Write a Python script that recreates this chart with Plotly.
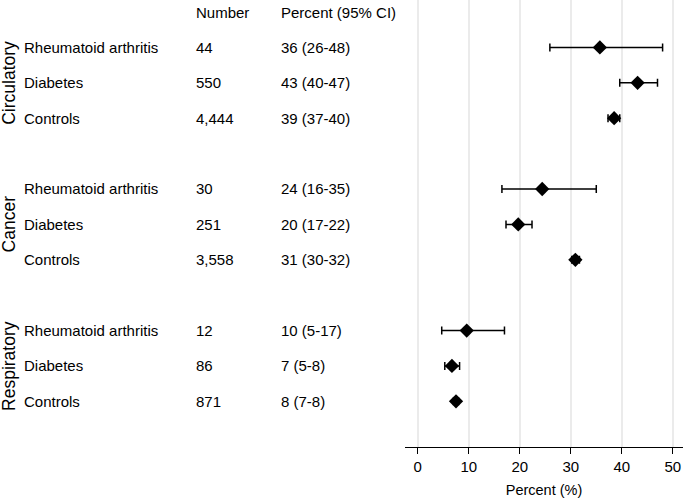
import plotly.graph_objects as go

# forest plot data
groups = ["Circulatory", "Cancer", "Respiratory"]
conditions = ["Rheumatoid arthritis", "Diabetes", "Controls"]
numbers = ["44", "550", "4,444", "30", "251", "3,558", "12", "86", "871"]
pct_text = ["36 (26-48)", "43 (40-47)", "39 (37-40)",
            "24 (16-35)", "20 (17-22)", "31 (30-32)",
            "10 (5-17)", "7 (5-8)", "8 (7-8)"]
pct = [35.7, 43.1, 38.5, 24.4, 19.7, 30.9, 9.6, 6.7, 7.5]
lo = [25.9, 39.6, 37.3, 16.5, 17.3, 30.2, 4.7, 5.3, 7.0]
hi = [48.0, 47.0, 39.6, 35.0, 22.4, 31.7, 17.0, 8.2, 8.0]

W, H = 685, 498
FONT = "Liberation Sans, Arial, sans-serif"

# row positions: header at 0, then 3 rows per group with a blank row between
rows = []
for g in range(len(groups)):
    for c in range(len(conditions)):
        rows.append(1 + g * 4 + c)

fig = go.Figure()
fig.add_trace(go.Scatter(
    x=pct, y=rows, mode="markers",
    marker=dict(symbol="diamond", size=11, color="black"),
    error_x=dict(type="data", symmetric=False,
                 array=[h - p for h, p in zip(hi, pct)],
                 arrayminus=[p - l for p, l in zip(pct, lo)],
                 color="black", thickness=1.5, width=4),
    hoverinfo="skip", showlegend=False,
))

ann = []
def add_text(px, y, text, size=15, **kw):
    ann.append(dict(x=px / W, y=y, xref="paper", yref="y", text=text,
                    showarrow=False, xanchor="left", yanchor="middle",
                    font=dict(size=size, color="black", family=FONT), **kw))

add_text(194, 0, "Number")
add_text(279, 0, "Percent (95% CI)")
for i, r in enumerate(rows):
    add_text(22, r, conditions[i % 3])
    add_text(194, r, numbers[i])
    add_text(279, r, pct_text[i])
for g, name in enumerate(groups):
    ann.append(dict(x=9 / W, y=2 + g * 4, xref="paper", yref="y", text=name,
                    showarrow=False, textangle=-90, xanchor="center", yanchor="middle",
                    font=dict(size=17.5, color="black", family=FONT)))

fig.update_layout(
    width=W, height=H,
    margin=dict(l=0, r=0, t=0, b=51),
    plot_bgcolor="white", paper_bgcolor="white",
    font=dict(family=FONT, size=15, color="black"),
    annotations=ann,
    xaxis=dict(domain=[405 / W, 683 / W], range=[-2.5, 52],
               tickvals=[0, 10, 20, 30, 40, 50],
               showgrid=True, gridcolor="#ebebeb", gridwidth=1.5,
               zeroline=False, showline=True, linecolor="black", linewidth=1.2,
               ticks="outside", ticklen=6, tickcolor="black", tickwidth=1.2,
               tickfont=dict(size=15), title=dict(text="Percent (%)", font=dict(size=14.5), standoff=10)),
    yaxis=dict(range=[12.29, -0.34], visible=False),
)

fig.write_html("out.html", config={"displayModeBar": False},
               post_script="document.body.style.margin='0';")
